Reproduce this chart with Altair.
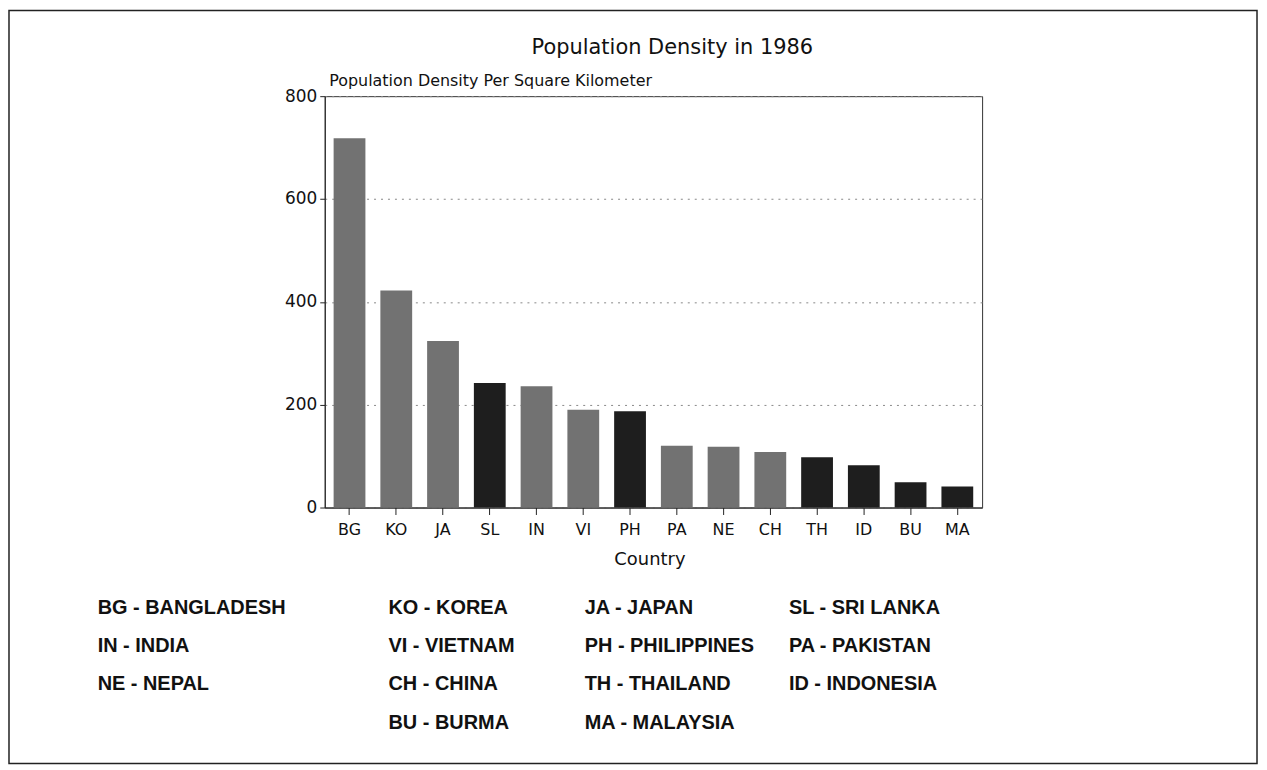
import altair as alt
import pandas as pd

codes = ["BG", "KO", "JA", "SL", "IN", "VI", "PH", "PA", "NE", "CH", "TH", "ID", "BU", "MA"]
density = [718, 422, 324, 242, 236, 190, 187, 120, 118, 108, 98, 82, 49, 41]
names = ["BANGLADESH", "KOREA", "JAPAN", "SRI LANKA", "INDIA", "VIETNAM", "PHILIPPINES",
         "PAKISTAN", "NEPAL", "CHINA", "THAILAND", "INDONESIA", "BURMA", "MALAYSIA"]
shade = ["gray", "gray", "gray", "dark", "gray", "gray", "dark", "gray", "gray", "gray",
         "dark", "dark", "dark", "dark"]
y_ticks = [0, 200, 400, 600, 800]

TEXT_FONT = "DejaVu Sans"
LEG_FONT = "Liberation Sans"

bars_df = pd.DataFrame({"code": codes, "density": density, "shade": shade})

# legend layout: 4 columns, last row centred under columns 2-3
rows, cols = [], []
for i in range(len(codes)):
    if i < 12:
        rows.append(i // 4)
        cols.append(i % 4)
    else:
        rows.append(3)
        cols.append(i - 12 + 1)
leg_df = pd.DataFrame({
    "label": [f"{c} - {n}" for c, n in zip(codes, names)],
    "row": rows,
    "col": cols,
})

W, H = 660, 413

bars = alt.Chart(bars_df).mark_bar().encode(
    x=alt.X("code:N", sort=codes,
            scale=alt.Scale(paddingInner=0.32, paddingOuter=0.19),
            axis=alt.Axis(title="Country", labelAngle=0, labelFont=TEXT_FONT,
                          labelFontSize=16, labelColor="#111", labelPadding=7,
                          tickSize=7, tickColor="#222", domainColor="#222",
                          titleFont=TEXT_FONT, titleFontSize=18, titleFontWeight="normal",
                          titleColor="#111", titleY=52, titleBaseline="middle",
                          titleX=326, grid=False)),
    y=alt.Y("density:Q", scale=alt.Scale(domain=[0, 800], nice=False),
            axis=alt.Axis(values=y_ticks, title="Population Density Per Square Kilometer",
                          titleAngle=0, titleAlign="left", titleX=4, titleY=-16,
                          titleBaseline="middle", titleFont=TEXT_FONT, titleFontSize=16,
                          titleFontWeight="normal", titleColor="#111",
                          labelFont=TEXT_FONT, labelFontSize=17, labelColor="#111",
                          labelPadding=3, tickSize=5, tickColor="#222", domainColor="#222",
                          grid=True, gridDash=[2, 5], gridColor="#888", gridWidth=1)),
    color=alt.Color("shade:N", scale=alt.Scale(domain=["gray", "dark"],
                                               range=["#727272", "#1e1e1e"]),
                    legend=None),
)

legend = alt.Chart(leg_df).mark_text(
    align="left", baseline="middle", font=LEG_FONT, fontSize=20, fontWeight="bold",
    color="#111"
).encode(
    x=alt.X("col:Q", scale=alt.Scale(domain=[0, 1, 2, 3], range=[-228, 64, 261, 466]),
            axis=None),
    y=alt.Y("row:Q", scale=alt.Scale(domain=[0, 3], range=[514, 629]), axis=None),
    text="label:N",
)

title = alt.Chart(pd.DataFrame({"t": ["Population Density in 1986"]})).mark_text(
    align="center", baseline="middle", font=TEXT_FONT, fontSize=21, color="#111"
).encode(x=alt.value(349), y=alt.value(-48), text="t:N")

frame = alt.Chart(pd.DataFrame({"f": [0]})).mark_rect(
    fill=None, stroke="#222", strokeWidth=1.5
).encode(x=alt.value(-317), x2=alt.value(936), y=alt.value(-86), y2=alt.value(670))

chart = alt.layer(bars, legend, title, frame).resolve_scale(
    x="independent", y="independent"
).properties(
    width=W, height=H,
    autosize=alt.AutoSizeParams(type="none"),
    padding={"left": 318, "top": 87, "right": 278, "bottom": 260},
    background="white",
).configure_view(stroke="#333", strokeWidth=1)

chart.save("out.html", embed_options={"renderer": "svg", "actions": False})
